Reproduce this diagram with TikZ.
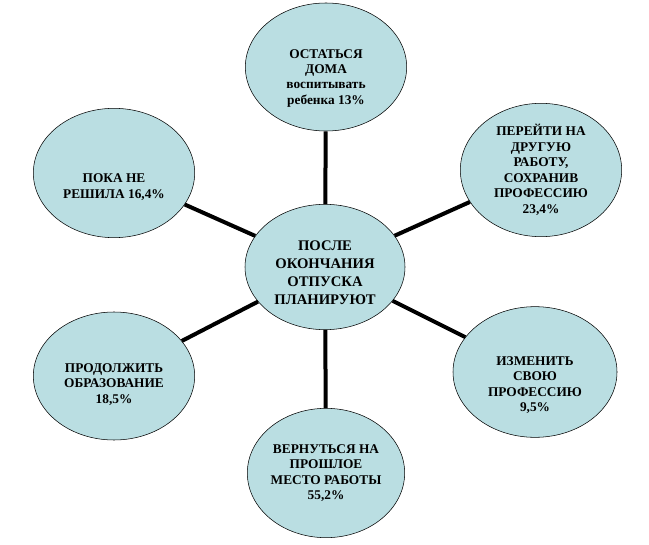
\documentclass[tikz,border=0pt]{standalone}
\usepackage{fontspec}
\setmainfont{Liberation Serif}[BoldFont={Liberation Serif Bold}]
\usetikzlibrary{shapes.geometric}
\definecolor{bubble}{RGB}{186,222,226}
\begin{document}
\begin{tikzpicture}[x=0.75pt, y=-0.75pt, every node/.style={ellipse, draw, thin, fill=bubble, align=center, inner sep=0pt, font=\rmfamily\bfseries\fontsize{10}{11.6}\selectfont, minimum width=121pt, minimum height=96pt}]
\useasboundingbox (0,0) rectangle (649,545);
% centre
\node (plan) at (325,267) [font=\rmfamily\bfseries\fontsize{11}{13.5}\selectfont, minimum width=120pt, minimum height=94pt] {\rule{0pt}{15.5pt}ПОСЛЕ\\ОКОНЧАНИЯ\\ОТПУСКА\\ПЛАНИРУЮТ};
% outer bubbles
\node (home) at (326,67) {\rule{0pt}{23.5pt}ОСТАТЬСЯ\\ДОМА\\воспитывать\\ребенка 13\%};
\node (newjob) at (541,170) [minimum height=100pt] {ПЕРЕЙТИ НА\\ДРУГУЮ\\РАБОТУ,\\СОХРАНИВ\\ПРОФЕССИЮ\\23,4\%};
\node (change) at (535,372) [minimum width=123pt, minimum height=98pt] {\rule{0pt}{26pt}ИЗМЕНИТЬ\\СВОЮ\\ПРОФЕССИЮ\\9,5\%};
\node (back) at (326,473) [minimum width=118pt, minimum height=97pt] {ВЕРНУТЬСЯ НА\\ПРОШЛОЕ\\МЕСТО РАБОТЫ\\55,2\%};
\node (study) at (114,376) {\rule{0pt}{19pt}ПРОДОЛЖИТЬ\\ОБРАЗОВАНИЕ\\18,5\%};
\node (undecided) at (114,173) [minimum height=97pt] {\rule{0pt}{28pt}ПОКА НЕ\\РЕШИЛА 16,4\%};
\draw[line width=3pt] (plan) -- (home);
\draw[line width=3pt] (plan) -- (newjob);
\draw[line width=3pt] (plan) -- (change);
\draw[line width=3pt] (plan) -- (back);
\draw[line width=3pt] (plan) -- (study);
\draw[line width=3pt] (plan) -- (undecided);
\end{tikzpicture}
\end{document}
